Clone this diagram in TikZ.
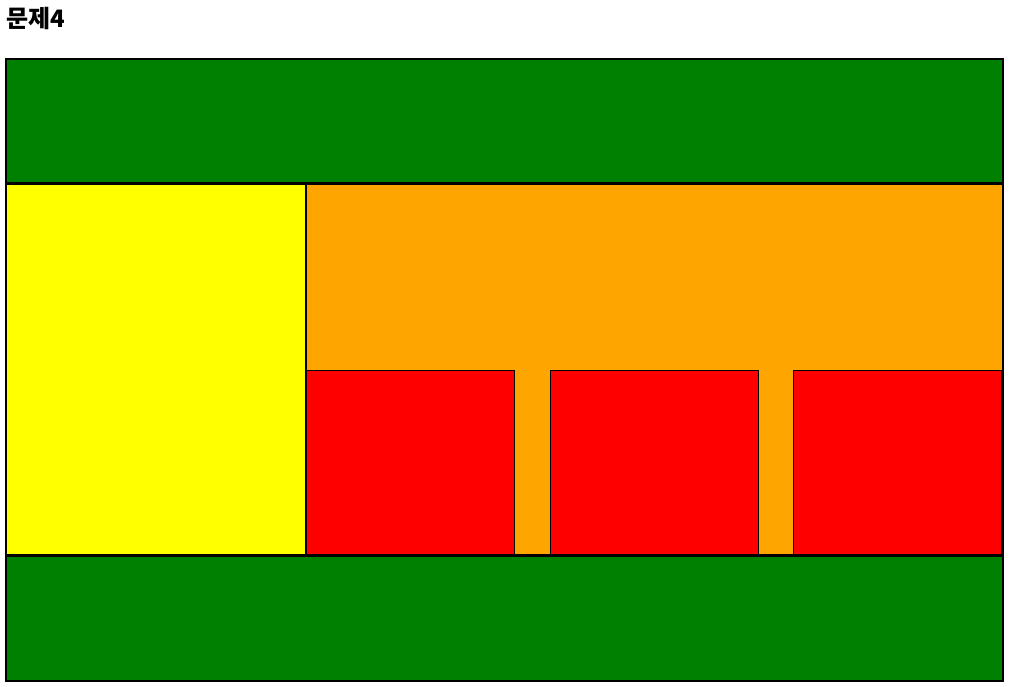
\documentclass[tikz,border=0pt]{standalone}
\usepackage{fontspec}
\newfontfamily\krfont{Noto Sans CJK KR}
\usepackage{tikz}
\definecolor{boxgreen}{RGB}{0,128,0}
\definecolor{boxyellow}{RGB}{255,255,0}
\definecolor{boxorange}{RGB}{255,165,0}
\definecolor{boxred}{RGB}{255,0,0}
\tikzset{
  thickbox/.style={draw=black, line width=2pt},
  thinbox/.style={draw=black, line width=1pt}
}

\begin{document}
\begin{tikzpicture}[x=1pt, y=-1pt]
        \useasboundingbox (0, 0) rectangle (1011, 687);

        % title
        \node[anchor=west, inner sep=0pt, font=\krfont\bfseries\fontsize{24}{28}\selectfont] (title) at (6, 19) {문제4};

        % green bands
        \draw[thickbox, fill=boxgreen] (6, 59) rectangle (1003, 183);
        \draw[thickbox, fill=boxgreen] (6, 556) rectangle (1003, 681);

        % middle part
        \draw[thickbox, fill=boxyellow] (6, 184) rectangle (306, 555);
        \draw[thickbox, fill=boxorange] (306, 184) rectangle (1003, 555);

        % red boxes
        \draw[thinbox, fill=boxred] (306.5, 370.5) rectangle (514.5, 554.5);
        \draw[thinbox, fill=boxred] (550.5, 370.5) rectangle (758.5, 554.5);
        \draw[thinbox, fill=boxred] (793.5, 370.5) rectangle (1001.5, 554.5);
    \end{tikzpicture}
\end{document}
